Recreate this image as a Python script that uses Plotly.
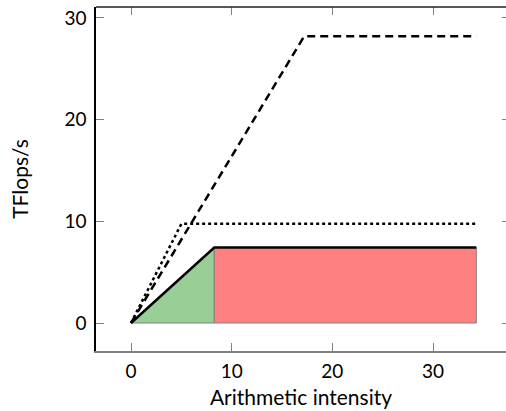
import plotly.graph_objects as go

# Data
x_ticks = [0, 10, 20, 30]
y_ticks = [0, 10, 20, 30]
x_max = 34.3

# roofline series: (x, y) vertices
dashed_x = [0, 17.2, x_max]
dashed_y = [0, 28.2, 28.2]
dotted_x = [0, 5.0, x_max]
dotted_y = [0, 9.75, 9.75]
solid_x = [0, 8.27, x_max]
solid_y = [0, 7.43, 7.43]

# shaded regions
green_x = [0, 8.27, 8.27, 0]
green_y = [0, 7.43, 0, 0]
red_x = [8.27, x_max, x_max, 8.27, 8.27]
red_y = [0, 0, 7.43, 7.43, 0]

FONT = "Lato"
fig = go.Figure()

fig.add_trace(go.Scatter(x=green_x, y=green_y, fill="toself", fillcolor="rgb(153,206,151)",
                         mode="lines", line=dict(color="#808080", width=1), hoverinfo="skip",
                         showlegend=False))
fig.add_trace(go.Scatter(x=red_x, y=red_y, fill="toself", fillcolor="rgb(255,128,128)",
                         mode="lines", line=dict(color="#808080", width=1), hoverinfo="skip",
                         showlegend=False))
fig.add_trace(go.Scatter(x=dashed_x, y=dashed_y, mode="lines",
                         line=dict(color="black", width=2.5, dash="8px,5px"), showlegend=False))
fig.add_trace(go.Scatter(x=dotted_x, y=dotted_y, mode="lines",
                         line=dict(color="black", width=2.5, dash="dot"), showlegend=False))
fig.add_trace(go.Scatter(x=solid_x, y=solid_y, mode="lines",
                         line=dict(color="black", width=2.5), showlegend=False))
fig.add_trace(go.Scatter(x=[None], y=[None], xaxis="x2", yaxis="y2", showlegend=False))

xr = [-3.477, 37.25]
yr = [-2.754, 31.08]

fig.update_layout(
    width=506, height=411,
    margin=dict(l=96, r=0, t=7, b=60),
    paper_bgcolor="white", plot_bgcolor="white",
    font=dict(family=FONT, size=19, color="black"),
    xaxis=dict(range=xr, tickvals=x_ticks, ticks="inside", ticklen=8, tickcolor="#808080",
               tickwidth=1, showline=True, linecolor="#808080", linewidth=1.5,
               showgrid=False, zeroline=False, tickfont=dict(size=19, family=FONT),
               ticklabelstandoff=2,
               title=dict(text="Arithmetic intensity", standoff=10,
                          font=dict(size=21, family=FONT))),
    xaxis2=dict(range=xr, overlaying="x", side="top", tickvals=x_ticks, ticks="inside",
                ticklen=8, tickcolor="#808080", showticklabels=False, showline=False,
                showgrid=False, zeroline=False),
    yaxis=dict(range=yr, tickvals=y_ticks, ticks="inside", ticklen=8, tickcolor="#808080",
               tickwidth=1, showline=True, linecolor="black", linewidth=1.5,
               showgrid=False, zeroline=False, tickfont=dict(size=19, family=FONT),
               ticklabelstandoff=4,
               title=dict(text="TFlops/s", standoff=30, font=dict(size=21, family=FONT))),
    yaxis2=dict(range=yr, overlaying="y", side="right", tickvals=y_ticks, ticks="inside",
                ticklen=4, tickcolor="#808080", showticklabels=False, showline=False,
                showgrid=False, zeroline=False),
    shapes=[dict(type="line", xref="paper", yref="paper", x0=0, x1=1, y0=1, y1=1,
                 line=dict(color="#202020", width=1.5))],
)

fig.write_html("out.html")
